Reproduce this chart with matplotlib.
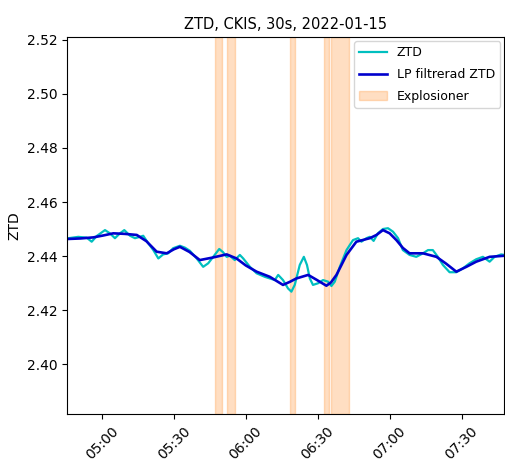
import matplotlib
matplotlib.use("Agg")
import matplotlib.pyplot as plt
import matplotlib.dates as mdates
import pandas as pd

start = pd.Timestamp("2022-01-15 05:00")

# ZTD (30s), minutes after 05:00 and value [m]
ztd_min = [-14.6, -14.0, -9.9, -6.4, -4.3, -2.2, 1.25, 3.3, 5.4, 7.5, 9.3, 11.7, 13.75, 15.8, 17.2,
           19.3, 21.4, 23.5, 25.5, 27.6, 29.7, 32.5, 34.6, 36.7, 39.5, 42.2, 44.3, 46.4, 48.9,
           50.5, 52.0, 53.3, 55.4, 57.5, 58.9, 61.7, 64.5, 67.9, 70.0, 72.1, 73.5, 75.5, 77.6,
           79.0, 80.4, 82.5, 84.2, 85.5, 86.7, 88.0, 90.1, 92.2, 94.3, 95.7, 97.1, 99.2, 102.0,
           104.7, 106.8, 108.2, 110.3, 111.7, 113.3, 115.1, 117.2, 119.3, 121.4, 123.5, 125.5,
           128.3, 131.1, 133.9, 136.0, 138.0, 140.1, 142.2, 145.0, 147.8, 150.5, 153.3, 156.1,
           158.9, 161.7, 163.75, 166.5, 167.9]
ztd = [2.4462, 2.4466, 2.4471, 2.4468, 2.4453, 2.4474, 2.4496, 2.4484, 2.4466, 2.4484, 2.4496,
       2.4475, 2.4466, 2.4471, 2.4475, 2.4447, 2.4422, 2.4391, 2.4406, 2.4410, 2.4429, 2.4438,
       2.4431, 2.4419, 2.4391, 2.4360, 2.4373, 2.4397, 2.4426, 2.4414, 2.4397, 2.4401, 2.4385,
       2.4404, 2.4391, 2.4360, 2.4336, 2.4323, 2.4317, 2.4311, 2.4330, 2.4311, 2.4280, 2.4268,
       2.4293, 2.4367, 2.4397, 2.4367, 2.4317, 2.4293, 2.4299, 2.4311, 2.4305, 2.4289, 2.4305,
       2.4360, 2.4422, 2.4459, 2.4466, 2.4453, 2.4466, 2.4471, 2.4456, 2.4484, 2.4500, 2.4503,
       2.4490, 2.4466, 2.4422, 2.4404, 2.4397, 2.4410, 2.4422, 2.4422, 2.4397, 2.4367, 2.4340,
       2.4340, 2.4354, 2.4373, 2.4388, 2.4397, 2.4379, 2.4397, 2.4406, 2.4404]

# low-pass filtered ZTD
lp_min = [-14.6, -9.0, -3.6, 0.5, 4.7, 9.5, 14.5, 18.5, 22.8, 27.0, 30.0, 32.5, 36.5, 40.8, 46.0,
          52.0, 56.1, 60.0, 64.5, 70.0, 75.5, 78.5, 81.1, 86.0, 89.5, 93.6, 95.5, 97.8, 102.0,
          106.1, 111.7, 114.5, 117.2, 120.0, 122.8, 125.5, 128.3, 133.9, 139.5, 143.5, 147.8,
          152.0, 156.1, 161.7, 167.9]
lp = [2.4463, 2.4465, 2.4469, 2.4476, 2.4484, 2.4482, 2.4478, 2.4455, 2.4416, 2.4410, 2.4425,
      2.4434, 2.4415, 2.4385, 2.4394, 2.4406, 2.4391, 2.4365, 2.4342, 2.4323, 2.4293, 2.4305,
      2.4317, 2.4330, 2.4312, 2.4290, 2.4302, 2.4330, 2.4404, 2.4453, 2.4466, 2.4478, 2.4496,
      2.4484, 2.4459, 2.4430, 2.4410, 2.4410, 2.4397, 2.4372, 2.4342, 2.4360, 2.4379, 2.4397,
      2.4401]

# explosion intervals, minutes after 05:00
expl_start = [47.1, 52.1, 78.3, 92.5, 95.4]
expl_end = [50.0, 55.4, 80.4, 94.6, 102.9]


def to_time(mins):
    return [start + pd.Timedelta(minutes=m) for m in mins]


fig = plt.figure(figsize=(5.05, 4.66), dpi=100)
ax = fig.add_axes([67 / 505, 1 - 414 / 466, 1 - 67 / 505 - 0.001, (414 - 37) / 466])

ax.plot(to_time(ztd_min), ztd, color="c", lw=1.6, label="ZTD")
ax.plot(to_time(lp_min), lp, color="mediumblue", lw=1.9, label="LP filtrerad ZTD")
for i, (a, b) in enumerate(zip(expl_start, expl_end)):
    ax.axvspan(start + pd.Timedelta(minutes=a), start + pd.Timedelta(minutes=b),
               color="C1", alpha=0.25, label="Explosioner" if i == 0 else None)

ax.set_xlim(to_time([ztd_min[0]])[0], to_time([ztd_min[-1]])[0])
ax.set_ylim(2.3815, 2.5211)
ax.xaxis.set_major_locator(mdates.MinuteLocator(byminute=[0, 30]))
ax.xaxis.set_major_formatter(mdates.DateFormatter("%H:%M"))
plt.setp(ax.get_xticklabels(), rotation=45)
ax.set_ylabel("ZTD")
ax.set_title("ZTD, CKIS, 30s, 2022-01-15", fontsize=10.5)
ax.legend(loc="upper right", fontsize=9, handlelength=2.2, labelspacing=0.7, borderaxespad=0.35)

fig.savefig("out.png", dpi=100)
